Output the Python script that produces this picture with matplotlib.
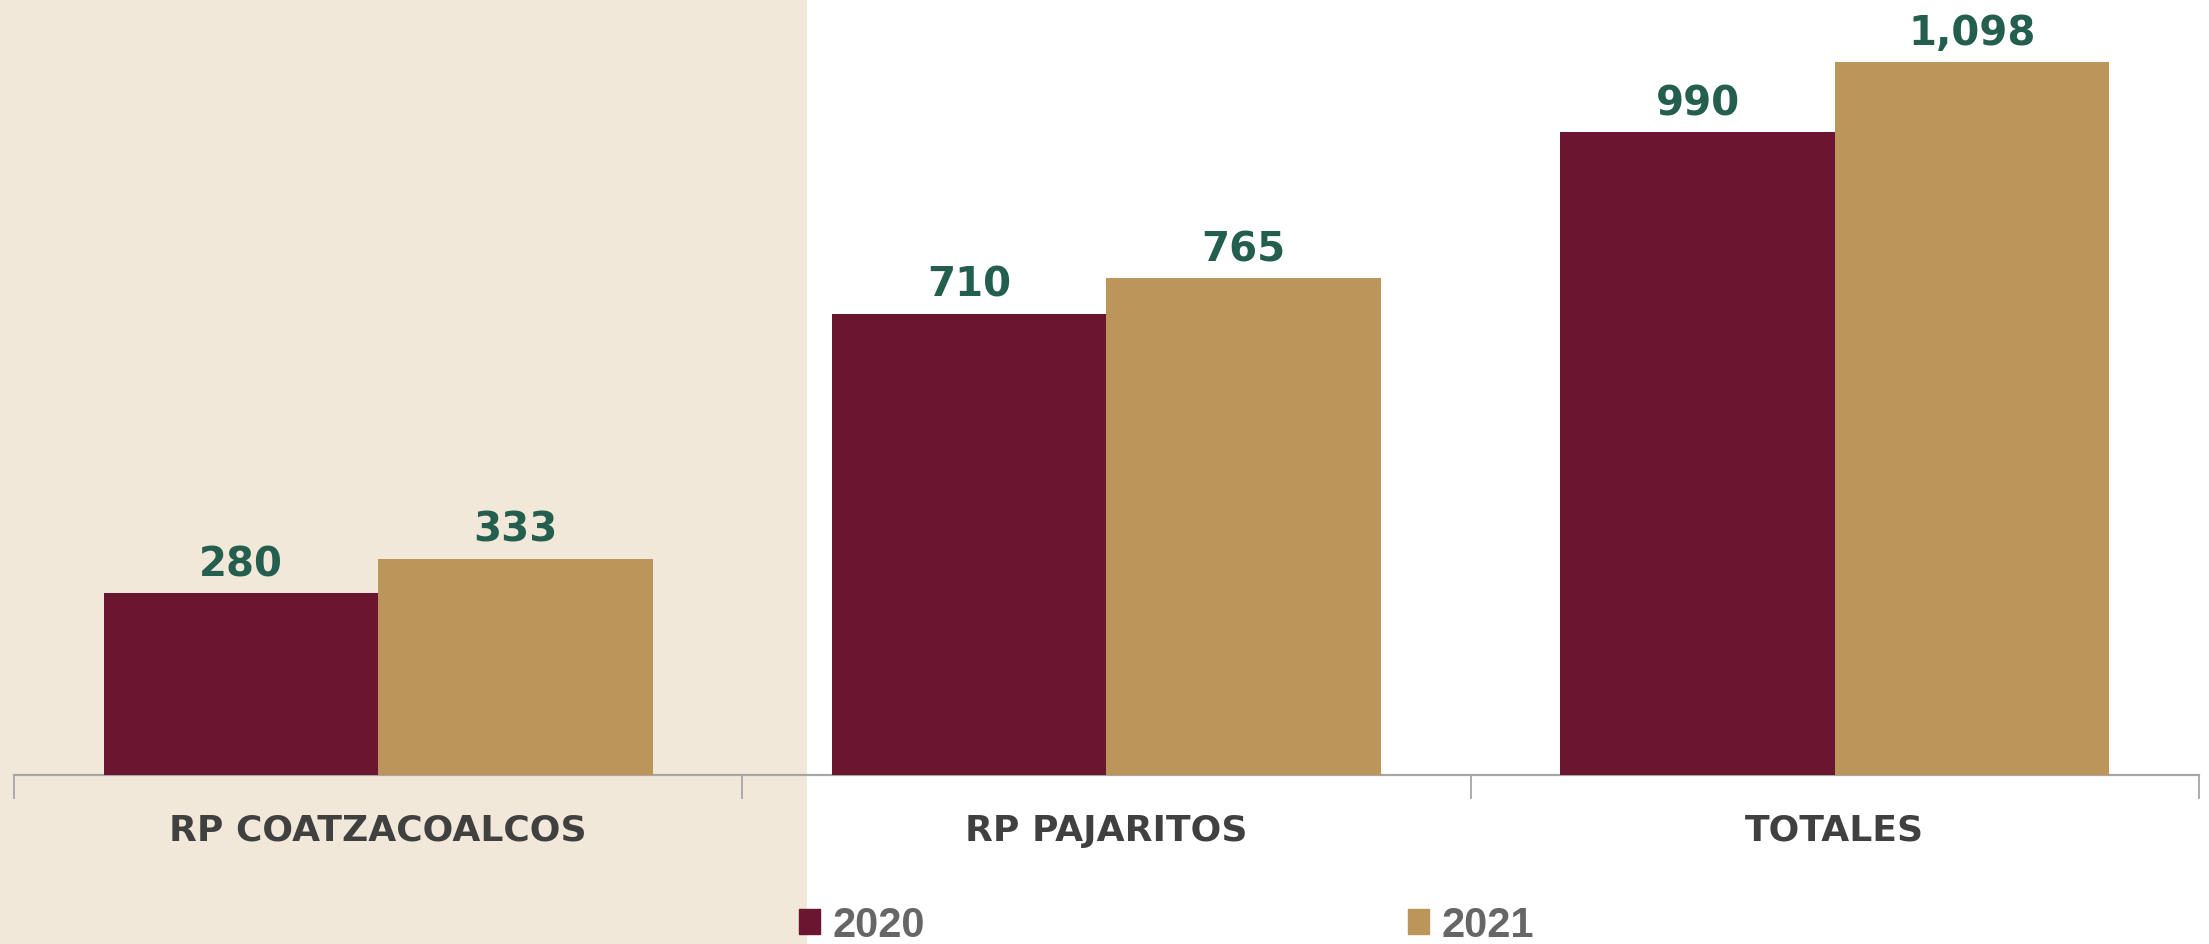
import numpy as np
import matplotlib as mpl
import matplotlib.pyplot as plt
from matplotlib.patches import Rectangle, Patch

mpl.use("Agg")

categories = ["RP COATZACOALCOS", "RP PAJARITOS", "TOTALES"]
years = ["2020", "2021"]
values_2020 = [280, 710, 990]
values_2021 = [333, 765, 1098]
value_labels_2020 = ["280", "710", "990"]
value_labels_2021 = ["333", "765", "1,098"]

c2020 = "#6A1630"
c2021 = "#BC955A"
green = "#235E4E"
dpi = 100

fig = plt.figure(figsize=(22.09, 9.45), dpi=dpi)
fig.patch.set_facecolor("white")
# beige panel on the left, behind everything
fig.patches.append(Rectangle((0, 0), 807 / 2209, 1, transform=fig.transFigure,
                             facecolor="#F2E8DA", edgecolor="none", zorder=-5))

ax = fig.add_axes([14 / 2209, 1 - 776 / 945, 2185 / 2209, 776 / 945])
ax.set_zorder(1)
ax.set_facecolor("none")

x = np.arange(len(categories))
w = 0.377
b1 = ax.bar(x - w / 2, values_2020, w, color=c2020, label=years[0], zorder=3)
b2 = ax.bar(x + w / 2, values_2021, w, color=c2021, label=years[1], zorder=3)

for bars, labs in ((b1, value_labels_2020), (b2, value_labels_2021)):
    for bar, lab in zip(bars, labs):
        ax.annotate(lab, (bar.get_x() + bar.get_width() / 2, bar.get_height()),
                    xytext=(0, 13), textcoords="offset points", ha="center",
                    va="baseline", fontsize=29, fontweight="bold", color=green,
                    family="DejaVu Sans")

ax.set_xlim(-0.5, 2.5)
ax.set_ylim(0, 1195)
ax.set_yticks([])
for s in ["top", "right", "left"]:
    ax.spines[s].set_visible(False)
ax.spines["bottom"].set_color("#A6A6A6")
ax.spines["bottom"].set_linewidth(1.6)

ax.set_xticks(x)
ax.set_xticklabels(categories, fontsize=26, fontweight="bold", color="#404040",
                   family="DejaVu Sans")
ax.tick_params(axis="x", which="major", length=0, pad=27)
ax.set_xticks([-0.5, 0.5, 1.5, 2.5], minor=True)
ax.tick_params(axis="x", which="minor", length=17, width=1.3, color="#A6A6A6")

leg = fig.legend(handles=[Patch(color=c2020), Patch(color=c2021)], labels=years,
                 loc="center", bbox_to_anchor=(0.528, 0.02), ncol=2, frameon=False,
                 handlelength=0.5, handleheight=0.55, handletextpad=0.3,
                 columnspacing=11.6,
                 prop={"family": ["Liberation Sans Narrow", "Liberation Sans"],
                       "weight": "bold", "size": 30})
for t in leg.get_texts():
    t.set_color("#666666")

fig.savefig("out.png", dpi=dpi)
